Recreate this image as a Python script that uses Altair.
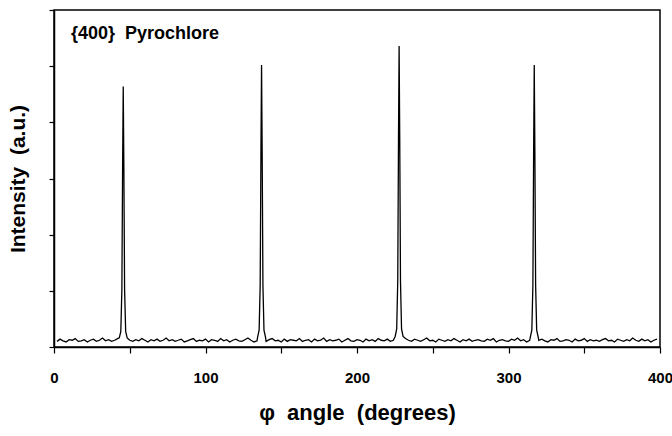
import altair as alt
import pandas as pd

# Peak positions (degrees) and heights (a.u.)
peak_centers = [45.7, 137.0, 227.8, 317.0]
peak_heights = [4.64, 5.02, 5.36, 5.02]
# Peak profile offsets (degrees) and fraction of peak height
peak_offsets = [-2.6, -1.6, -0.9, -0.4, 0.0, 0.4, 0.9, 1.6, 2.6]
peak_fracs = [0.035, 0.06, 0.22, 0.70, 1.0, 0.70, 0.22, 0.06, 0.035]

# Background noise, one reading every 2 degrees from 0 to 400
baseline = [
    0.12, 0.10, 0.14, 0.11, 0.09, 0.13, 0.12, 0.15, 0.10, 0.11, 0.13, 0.09, 0.12, 0.14, 0.10, 0.12, 0.16, 0.11, 0.13, 0.10,
    0.12, 0.15, 0.11, 0.09, 0.14, 0.12, 0.10, 0.13, 0.11, 0.15, 0.12, 0.09, 0.13, 0.11, 0.14, 0.10, 0.12, 0.16, 0.11, 0.13,
    0.10, 0.12, 0.14, 0.09, 0.11, 0.13, 0.15, 0.10, 0.12, 0.11, 0.14, 0.09, 0.13, 0.12, 0.10, 0.15, 0.11, 0.13, 0.09, 0.12,
    0.14, 0.11, 0.10, 0.13, 0.16, 0.12, 0.09, 0.11, 0.14, 0.12, 0.10, 0.13, 0.15, 0.11, 0.12, 0.09, 0.14, 0.10, 0.13, 0.12,
    0.11, 0.15, 0.10, 0.12, 0.13, 0.09, 0.14, 0.11, 0.12, 0.16, 0.10, 0.13, 0.11, 0.12, 0.14, 0.09, 0.12, 0.15, 0.11, 0.10,
    0.13, 0.12, 0.09, 0.14, 0.11, 0.13, 0.10, 0.15, 0.12, 0.11, 0.14, 0.10, 0.12, 0.13, 0.09, 0.11, 0.15, 0.12, 0.10, 0.14,
    0.12, 0.10, 0.13, 0.16, 0.11, 0.12, 0.09, 0.14, 0.12, 0.10, 0.13, 0.11, 0.15, 0.12, 0.09, 0.13, 0.11, 0.14, 0.10, 0.12,
    0.13, 0.11, 0.10, 0.14, 0.12, 0.15, 0.09, 0.12, 0.13, 0.11, 0.10, 0.14, 0.12, 0.16, 0.11, 0.13, 0.09, 0.12, 0.14, 0.10,
    0.12, 0.14, 0.11, 0.09, 0.13, 0.12, 0.15, 0.10, 0.11, 0.13, 0.12, 0.09, 0.14, 0.11, 0.12, 0.15, 0.10, 0.13, 0.11, 0.12,
    0.10, 0.13, 0.15, 0.11, 0.12, 0.09, 0.14, 0.12, 0.10, 0.13, 0.11, 0.16, 0.12, 0.10, 0.14, 0.11, 0.13, 0.09, 0.12, 0.14,
    0.12,
]

x_ticks = [0, 50, 100, 150, 200, 250, 300, 350, 400]
y_ticks = [0, 1, 2, 3, 4, 5, 6]

rows = []
for i, v in enumerate(baseline):
    xv = i * 2
    if xv < 1 or xv > 399:
        continue
    if any(abs(xv - c) < 2.7 for c in peak_centers):
        continue
    rows.append({"phi": xv, "I": v})
for c, h in zip(peak_centers, peak_heights):
    for o, f in zip(peak_offsets, peak_fracs):
        rows.append({"phi": c + o, "I": max(h * f, 0.12)})

df = pd.DataFrame(rows).sort_values("phi")

NB = "\u00a0"

line = alt.Chart(df).mark_line(color="black", strokeWidth=1.3).encode(
    x=alt.X("phi:Q", scale=alt.Scale(domain=[0, 400], nice=False),
            axis=alt.Axis(values=x_ticks,
                          labelExpr="datum.value % 100 == 0 ? datum.label : ''",
                          labelFlush=False, labelOverlap=False,
                          title=f"φ {NB}angle {NB}(degrees)",
                          grid=False, tickSize=6, tickColor="black", tickWidth=1.2,
                          domainColor="black", domainWidth=1.5,
                          labelFont="Liberation Sans", labelFontWeight="bold",
                          labelFontSize=15, labelColor="black", labelPadding=17,
                          titleFont="Liberation Sans", titleFontWeight="bold",
                          titleFontSize=22, titleColor="black", titlePadding=17)),
    y=alt.Y("I:Q", scale=alt.Scale(domain=[0, 6], nice=False),
            axis=alt.Axis(values=y_ticks, labels=False,
                          title=f"Intensity {NB}(a.u.)",
                          grid=False, tickSize=5, tickColor="black", tickWidth=1.2,
                          domainColor="black", domainWidth=1.5,
                          titleFont="Liberation Sans", titleFontWeight="bold",
                          titleFontSize=21, titleColor="black", titlePadding=20)),
)

label = alt.Chart(pd.DataFrame({"t": [f"{{400}} {NB}Pyrochlore"]})).mark_text(
    align="left", baseline="middle", font="Liberation Sans", fontWeight="bold",
    fontSize=18, color="black"
).encode(x=alt.value(17), y=alt.value(24), text="t:N")

chart = (line + label).properties(
    width=606, height=337,
    padding={"left": 54, "top": 10, "right": 12, "bottom": 89},
    autosize=alt.AutoSizeParams(type="none"),
    background="white",
).configure_view(stroke="black", strokeWidth=1.5)

chart.save("out.html", embed_options={"renderer": "svg", "actions": False})
